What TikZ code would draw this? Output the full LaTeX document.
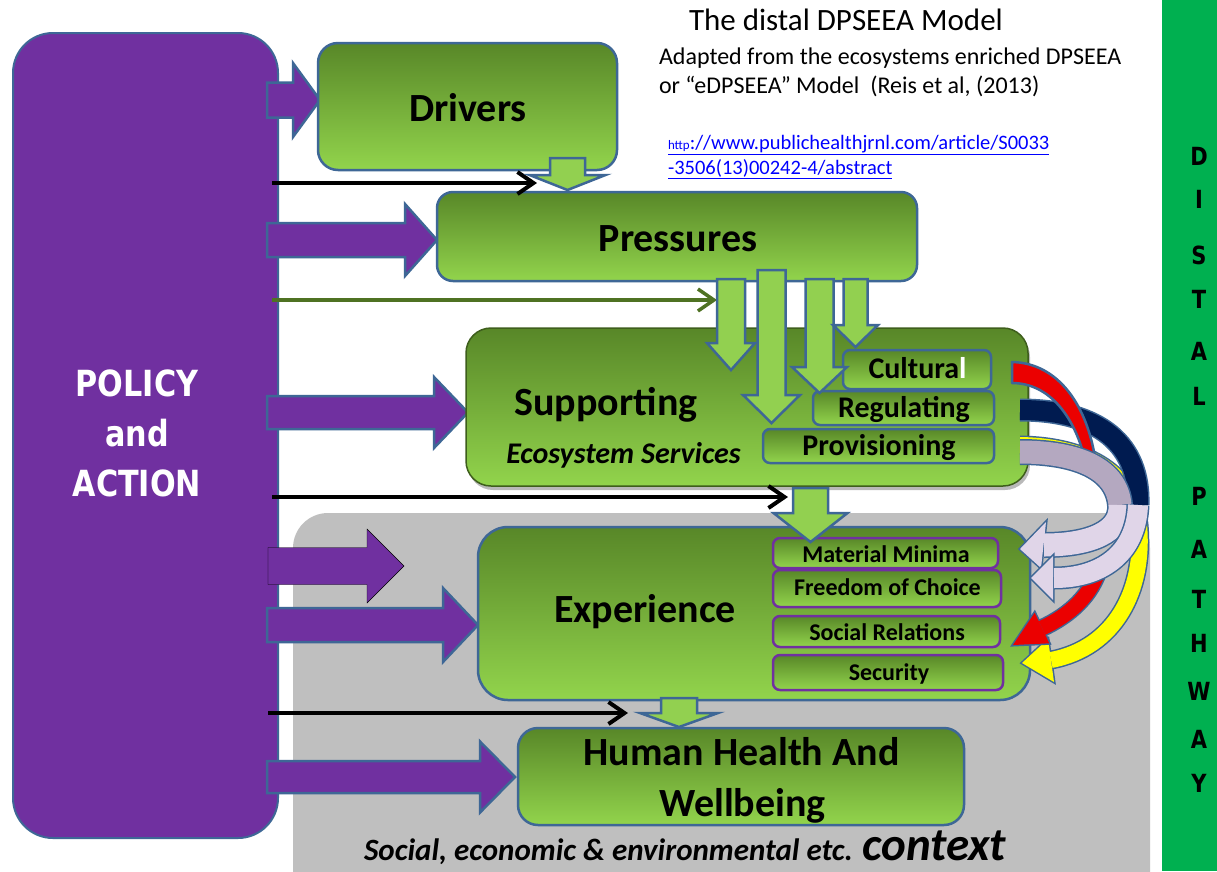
\documentclass[tikz,border=0pt]{standalone}
\usepackage{fontspec}
\setmainfont{Carlito}
\newfontfamily\dejavu{DejaVu Sans}
\newfontfamily\dejavunarrow[FakeStretch=0.84]{DejaVu Sans}
\usetikzlibrary{arrows.meta,shadows}
\definecolor{bordc}{RGB}{62,103,150}
\definecolor{purp}{RGB}{112,48,160}
\definecolor{gtop}{RGB}{88,135,40}
\definecolor{gbot}{RGB}{146,212,76}
\definecolor{garrow}{RGB}{146,208,80}
\definecolor{ctxgray}{RGB}{191,191,191}
\definecolor{bandc}{RGB}{0,176,80}
\definecolor{olive}{RGB}{79,114,35}
\definecolor{navyc}{RGB}{0,27,80}
\definecolor{lilac}{RGB}{224,213,232}
\definecolor{lilacgray}{RGB}{180,168,192}
\definecolor{redc}{RGB}{235,0,0}
\definecolor{yel}{RGB}{255,255,0}
\definecolor{linkblue}{RGB}{0,0,255}
\newcommand\myfs[1]{\fontsize{#1}{#1}\selectfont}
\newcommand\RArrow[7]{\draw[#1] (#2,#5-#6) -- (#3,#5-#6) -- (#3,#5-#7) -- (#4,#5) -- (#3,#5+#7) -- (#3,#5+#6) -- (#2,#5+#6) -- cycle;}
\newcommand\DArrow[7]{\draw[#1] (#2-#3,#4) -- (#2+#3,#4) -- (#2+#3,#5) -- (#2+#6,#5) -- (#2,#7) -- (#2-#6,#5) -- (#2-#3,#5) -- cycle;}
\tikzset{
  gbox/.style={draw=bordc, line width=2.5pt, top color=gtop, bottom color=gbot, rounded corners=#1},
  subbox/.style={draw=bordc, line width=2.5pt, top color=gtop, bottom color=gbot, rounded corners=7pt},
  expsub/.style={draw=purp, line width=2.5pt, top color=gtop, bottom color=gbot, rounded corners=7pt},
  parrow/.style={fill=purp, draw=bordc, line width=2.5pt, line join=miter},
  garr/.style={fill=garrow, draw=bordc, line width=2.5pt, line join=miter},
  blk/.style={line width=4pt, -{Straight Barb[length=16pt,width=22pt]}},
  lbl/.style={font=\bfseries\myfs{40}, anchor=base},
  slbl/.style={font=\bfseries\myfs{30}, anchor=base},
  elbl/.style={font=\bfseries\myfs{24}, anchor=base},
  vlet/.style={font=\dejavunarrow\bfseries\myfs{25}, anchor=base},
  pol/.style={font=\dejavunarrow\bfseries\myfs{36}, text=white, anchor=base},
  every node/.style={inner sep=0pt, outer sep=0pt}
}
\begin{document}
\begin{tikzpicture}[x=1pt,y=-1pt]
\clip (0,0) rectangle (1217,871);
\fill[white] (0,0) rectangle (1217,871);
% context panel
\fill[ctxgray, rounded corners=35pt] (293,513) rectangle (1150,930);
% distal band
\fill[bandc] (1162,0) rectangle (1217,871);
\foreach \l/\yy in {D/165,I/208,S/264,T/308,A/360,L/405,P/505,A/558,T/608,H/652,W/700,A/748,Y/792}
  \node[vlet] at (1199,\yy) {\l};
% policy box
\node[draw=bordc, line width=2pt, fill=purp, rounded corners=40pt, minimum width=265pt, minimum height=805pt] (policy) at (145.5,435.5) {};
\node[pol] (pol1) at (137,396) {POLICY};
\node[pol] (pol2) at (137,446) {and};
\node[pol] (pol3) at (137,496) {ACTION};
% purple block arrows
\RArrow{parrow}{267}{293}{320}{100}{17.5}{37}
\RArrow{parrow}{267}{405}{437}{240}{17}{36}
\RArrow{parrow}{267}{434}{468}{412.5}{16.5}{35.5}
\RArrow{fill=purp}{268}{367}{404}{566}{18.5}{37}
\RArrow{parrow}{267}{443}{478}{625}{17}{37}
\RArrow{parrow}{267}{480}{515}{777}{16}{35.5}
% boxes
\node[gbox=20pt, minimum width=299pt, minimum height=127pt] (drivers) at (467.5,106.5) {};
\node[gbox=16pt, minimum width=480pt, minimum height=89pt] (pressures) at (677,236.5) {};
\node[draw=gtop!70!black, line width=1.5pt, top color=gtop, bottom color=gbot, rounded corners=25pt, minimum width=562pt, minimum height=158pt, drop shadow={shadow xshift=2pt, shadow yshift=-4pt, opacity=0.55}] (supporting) at (747,407) {};
\node[subbox, minimum width=148pt, minimum height=39pt] (cultural) at (917,369.5) {};
\node[subbox, minimum width=181pt, minimum height=34pt] (regulating) at (903.5,408) {};
\node[subbox, minimum width=231pt, minimum height=34pt] (provisioning) at (878.5,446) {};
\node[gbox=30pt, minimum width=552pt, minimum height=173pt] (experience) at (754,613.5) {};
\node[expsub, minimum width=225pt, minimum height=30pt] (matmin) at (885.5,553) {};
\node[expsub, minimum width=228pt, minimum height=37pt] (freedom) at (887,588.5) {};
\node[expsub, minimum width=227pt, minimum height=31pt] (social) at (886.5,631.5) {};
\node[expsub, minimum width=230pt, minimum height=35pt] (security) at (888,672.5) {};
\node[gbox=20pt, minimum width=446pt, minimum height=97pt] (hhw) at (741,776.5) {};
% box labels
\node[lbl] (tdrivers) at (468,121) {Drivers};
\node[lbl] (tpressures) at (678,251) {Pressures};
\node[lbl] (tsupp) at (606,415) {Supporting};
\node[font=\bfseries\itshape\myfs{30}, anchor=base] (tess) at (623.5,463) {Ecosystem Services};
\node[slbl] (tcult) at (917.5,378) {Cultura\textcolor{white}{l}};
\node[slbl] (treg) at (904,417) {Regulating};
\node[slbl] (tprov) at (879,455) {Provisioning};
\node[lbl] (texp) at (645,622) {Experience};
\node[elbl] (tmat) at (886,562) {Material Minima};
\node[elbl] (tfree) at (887.5,595) {Freedom of Choice};
\node[elbl] (tsoc) at (887,640) {Social Relations};
\node[elbl] (tsec) at (889,680) {Security};
\node[lbl] (thhw1) at (741.5,765) {Human Health And};
\node[lbl] (thhw2) at (742.5,816) {Wellbeing};
% thin arrows
\coordinate (b1s) at (272,183); \coordinate (b1e) at (537,183);
\coordinate (g1s) at (272,300); \coordinate (g1e) at (717,300);
\coordinate (b2s) at (272,497); \coordinate (b2e) at (788,497);
\coordinate (b3s) at (268,713); \coordinate (b3e) at (628,713);
\draw[blk] (b1s) -- (b1e);
\draw[blk, olive, line width=3.5pt] (g1s) -- (g1e);
\draw[blk] (b2s) -- (b2e);
\draw[blk] (b3s) -- (b3e);
% green down arrows
\DArrow{garr}{567.5}{17.5}{158}{175}{38}{190}
\DArrow{garr}{731}{14}{279}{343}{24}{370}
\DArrow{garr}{771.5}{14}{270}{395}{28.5}{423}
\DArrow{garr}{819.5}{14}{279}{367}{27.5}{393}
\DArrow{garr}{855.5}{12}{279}{325}{22.5}{347}
\DArrow{garr}{810.5}{17.5}{488}{513}{37}{542}
\DArrow{garr}{679}{18}{698}{713}{39}{727}
% curved arrows
% yellow (lowest)
\draw[bordc, line width=19pt] (1020,445) .. controls (1090,446) and (1133,475) .. (1139,525) .. controls (1145,590) and (1115,648) .. (1051,660);
\filldraw[bordc, line width=3pt] (1048,639) -- (1054,682) -- (1022,663) -- cycle;
\draw[yel, line width=16pt] (1020,445) .. controls (1090,446) and (1133,475) .. (1139,525) .. controls (1145,590) and (1115,648) .. (1051,660);
\fill[yel] (1048,639) -- (1054,682) -- (1022,663) -- cycle;
% navy (upper part)
\draw[bordc, line width=23pt] (1020,410) .. controls (1100,410) and (1140,445) .. (1138,505);
\draw[navyc, line width=20pt] (1020,410) .. controls (1100,410) and (1140,445) .. (1138,505);
% red, upper tapering part
\filldraw[fill=redc, draw=bordc, line width=2.5pt, line join=round] (1012,362) .. controls (1058,363) and (1088,405) .. (1096,464) -- (1086,464) .. controls (1076,418) and (1050,383) .. (1012,383) -- cycle;
% red, lower part with head
\draw[bordc, line width=18pt] (1100,566) .. controls (1092,595) and (1070,615) .. (1042,628);
\filldraw[bordc, line width=3pt] (1034.7,612.7) -- (1049.3,643.3) -- (1013,645) -- cycle;
\draw[redc, line width=15pt] (1100,566) .. controls (1092,595) and (1070,615) .. (1042,628);
\fill[redc] (1034.7,612.7) -- (1049.3,643.3) -- (1013,645) -- cycle;
% provisioning band -> material minima
\draw[bordc, line width=26pt] (1020,452) .. controls (1080,452) and (1117,470) .. (1120,505) .. controls (1122,532) and (1090,545) .. (1044,545);
\filldraw[bordc, line width=3pt] (1046,522) -- (1041,568) -- (1020,549) -- cycle;
\draw[lilacgray, line width=23pt] (1020,452) .. controls (1080,452) and (1117,470) .. (1120,505);
\draw[lilac, line width=23pt] (1120,505) .. controls (1122,532) and (1090,545) .. (1044,545);
\fill[lilac] (1046,522) -- (1041,568) -- (1020,549) -- cycle;
% lower lilac (continuation of navy) -> freedom of choice
\draw[bordc, line width=23pt] (1138,505) .. controls (1136,555) and (1100,578) .. (1054,578);
\filldraw[bordc, line width=3pt] (1053,556) -- (1053,600) -- (1031,578) -- cycle;
\draw[lilac, line width=20pt] (1138,505) .. controls (1136,555) and (1100,578) .. (1054,578);
\fill[lilac] (1053,556) -- (1053,600) -- (1031,578) -- cycle;
% titles
\node[font=\myfs{31}, anchor=base west] (title) at (689,30) {The distal DPSEEA Model};
\node[font=\myfs{24}, anchor=base west] (sub1) at (659,64) {Adapted from the ecosystems enriched DPSEEA};
\node[font=\myfs{24}, anchor=base west] (sub2) at (659,93) {or “eDPSEEA” Model\ \ (Reis et al, (2013)};
\node[font=\myfs{20.5}, text=linkblue, anchor=base west] (url1) at (668,149) {\underline{{\myfs{13}http}://www.publichealthjrnl.com/article/S0033}};
\node[font=\myfs{20.5}, text=linkblue, anchor=base west] (url2) at (668,174) {\underline{-3506(13)00242-4/abstract}};
% context
\node[font=\bfseries\itshape\myfs{31}, anchor=base west] (ctx) at (364,860) {Social, economic \& environmental etc. {\myfs{47}context}};
\end{tikzpicture}
\end{document}
